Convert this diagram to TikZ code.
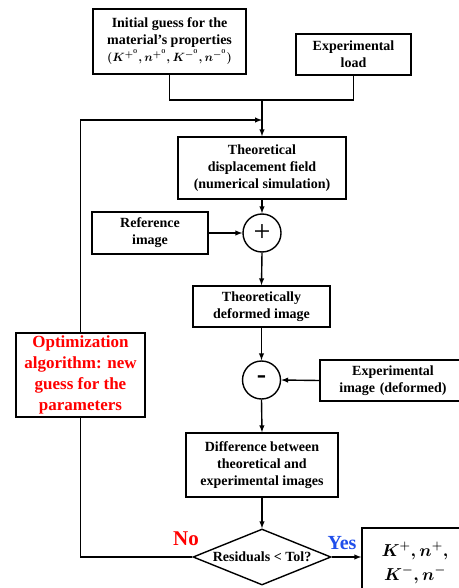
\documentclass[tikz,border=0pt]{standalone}
\usepackage{fontspec}
\setmainfont{Liberation Serif}
\definecolor{yesblue}{RGB}{31, 78, 235}
\usetikzlibrary{arrows}
\usetikzlibrary{positioning, shapes.geometric}

\begin{document}
\begin{tikzpicture}[x=1pt, y=-1pt,
        box/.style={draw, line width=1.4pt, fill=white, align=center, inner sep=0pt,
            font=\bfseries\fontsize{14}{17}\selectfont},
        sumnode/.style={draw, circle, line width=1.4pt, minimum size=38pt, inner sep=0pt},
        line/.style={line width=1.4pt},
        arr/.style={line width=1.4pt, -latex}]
        \useasboundingbox (0,0) rectangle (458,588);

        % Inputs
        \node[box, minimum width=153pt, minimum height=65pt] (init) at (169.5,41.5)
            {Initial guess for the\\ material's properties\\ {\fontsize{12.5}{17}\selectfont\mathversion{bold}$(K^{+^{0}}, n^{+^{0}}, K^{-^{0}}, n^{-^{0}})$}};
        \node[box, minimum width=115pt, minimum height=41pt] (load) at (353.5,54.5) {Experimental\\ load};

        % Simulation
        \node[box, minimum width=168pt, minimum height=62pt] (theo) at (262,168)
            {Theoretical\\ displacement field\\ (numerical simulation)};
        \node[sumnode, font=\fontsize{30}{30}\selectfont] (plus) at (262,233) {+};
        \node[box, minimum width=116pt, minimum height=42pt] (ref) at (150,233) {Reference\\ image};
        \node[box, minimum width=137pt, minimum height=41pt] (defo) at (261.5,306.5)
            {Theoretically\\ deformed image};
        \node[sumnode, font=\bfseries\fontsize{28}{28}\selectfont] (minus) at (261.5,380) {-};
        \node[box, minimum width=146pt, minimum height=41pt, text width=138pt] (expimg) at (393,380.5)
            {Experimental\\ image (deformed)};
        \node[box, minimum width=152pt, minimum height=64pt] (diff) at (262,465)
            {Difference between\\ theoretical and\\ experimental images};

        % Decision
        \node[draw, diamond, line width=1.4pt, aspect=2.46, minimum width=138pt, minimum height=56pt,
            inner sep=0pt, font=\bfseries\fontsize{14}{17}\selectfont] (diam) at (262,557) {Residuals < Tol?};
        \node[box, minimum width=106pt, minimum height=70pt, text width=96pt,
            font=\fontsize{18}{24}\selectfont] (res) at (415,563)
            {{\mathversion{bold}$K^{+}, n^{+},$}\\ {\mathversion{bold}$K^{-}, n^{-}$}};
        \node[box, draw=none, fill=none, text=red, font=\bfseries\fontsize{21}{24}\selectfont] (no) at (186,539) {No};
        \node[box, draw=none, fill=none, text=yesblue, font=\bfseries\fontsize{20}{24}\selectfont] (yes) at (342,543) {Yes};

        % Optimization
        \node[box, minimum width=129pt, minimum height=84pt, text=red,
            font=\bfseries\fontsize{17}{21}\selectfont] (opt) at (80.5,375)
            {Optimization\\ algorithm: new\\ guess for the\\ parameters};

        % Connectors
        \coordinate (j) at (262,100);
        \coordinate (fb) at (262,120);
        \draw[line] (init.south) |- (j -| load.south) -- (load.south);
        \draw[arr] (j) -- (theo.north);
        \draw[arr] (theo.south) -- (plus.north);
        \draw[arr] (ref.east) -- (plus.west);
        \draw[arr] (plus.south) -- (defo.north);
        \draw[arr] (defo.south) -- (minus.north);
        \draw[arr] (expimg.west) -- (minus.east);
        \draw[arr] (minus.south) -- (diff.north);
        \draw[arr] (diff.south) -- (diam.north);
        \draw[arr] (diam.east) -- (diam.east -| res.west);
        \draw[line] (diam.west) -| (opt.south);
        \draw[arr] (opt.north) |- (fb);
\end{tikzpicture}
\end{document}
